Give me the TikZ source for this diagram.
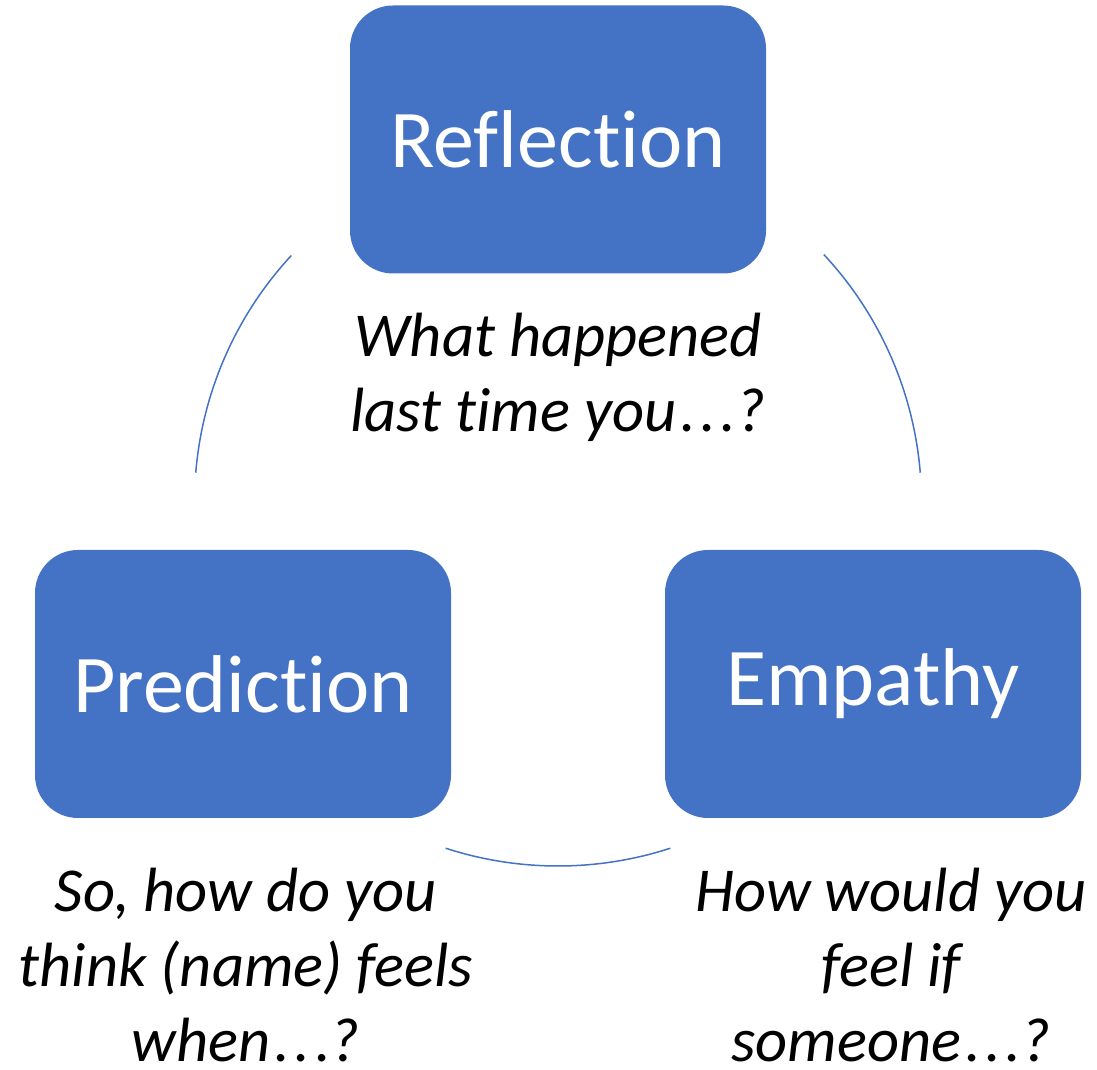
\documentclass[tikz,border=0pt]{standalone}
\usepackage{fontspec}
\setmainfont{Carlito}[Ligatures=NoCommon]
\usepackage{xcolor}
\usetikzlibrary{calc}
\definecolor{boxblue}{HTML}{4472C4}
\newcommand{\trail}{\kern4pt.\kern4.5pt.\kern4.5pt.} % spaced-out dots
\tikzset{
    x=1pt, y=1pt, % one unit is one point
    stage/.style={fill=boxblue, draw=none, rounded corners=43pt,
        minimum width=416pt, minimum height=268pt,
        text=white, font=\fontsize{82}{98}\selectfont}, % the three blue boxes
    prompt/.style={align=center, anchor=base, inner sep=0pt,
        font=\fontsize{62.5}{75}\selectfont\itshape}, % the question under each box (base = last line)
    ring/.style={draw=boxblue, line width=1.5pt}, % arcs of the cycle
}

\begin{document}
\begin{tikzpicture}
    \useasboundingbox (0,0) rectangle (1097,1070);

    % boxes
    \node[stage] (reflection) at (558,930.5) {Reflection};
    \node[stage] (prediction) at (243,386) {Prediction};
    \node[stage] (empathy) at (873,386) {Empathy};

    % questions
    \node[prompt] (q-reflection) at (558,638) {What happened\\last time you\trail?};
    \node[prompt] (q-prediction) at (246,8) {So, how do you\\think (name) feels\\when\trail?};
    \node[prompt] (q-empathy) at (891,8) {How would you\\feel if\\someone\trail?};

    % the cycle between the boxes
    \coordinate (hub) at (558,567.5);
    \draw[ring] ([shift={(137.2:363.5pt)}]hub) arc[start angle=137.2, end angle=175.3, radius=363.5pt];
    \draw[ring] ([shift={(43:363.5pt)}]hub) arc[start angle=43, end angle=4.7, radius=363.5pt];
    \draw[ring] ([shift={(252:363.5pt)}]hub) arc[start angle=252, end angle=288, radius=363.5pt];
\end{tikzpicture}
\end{document}
